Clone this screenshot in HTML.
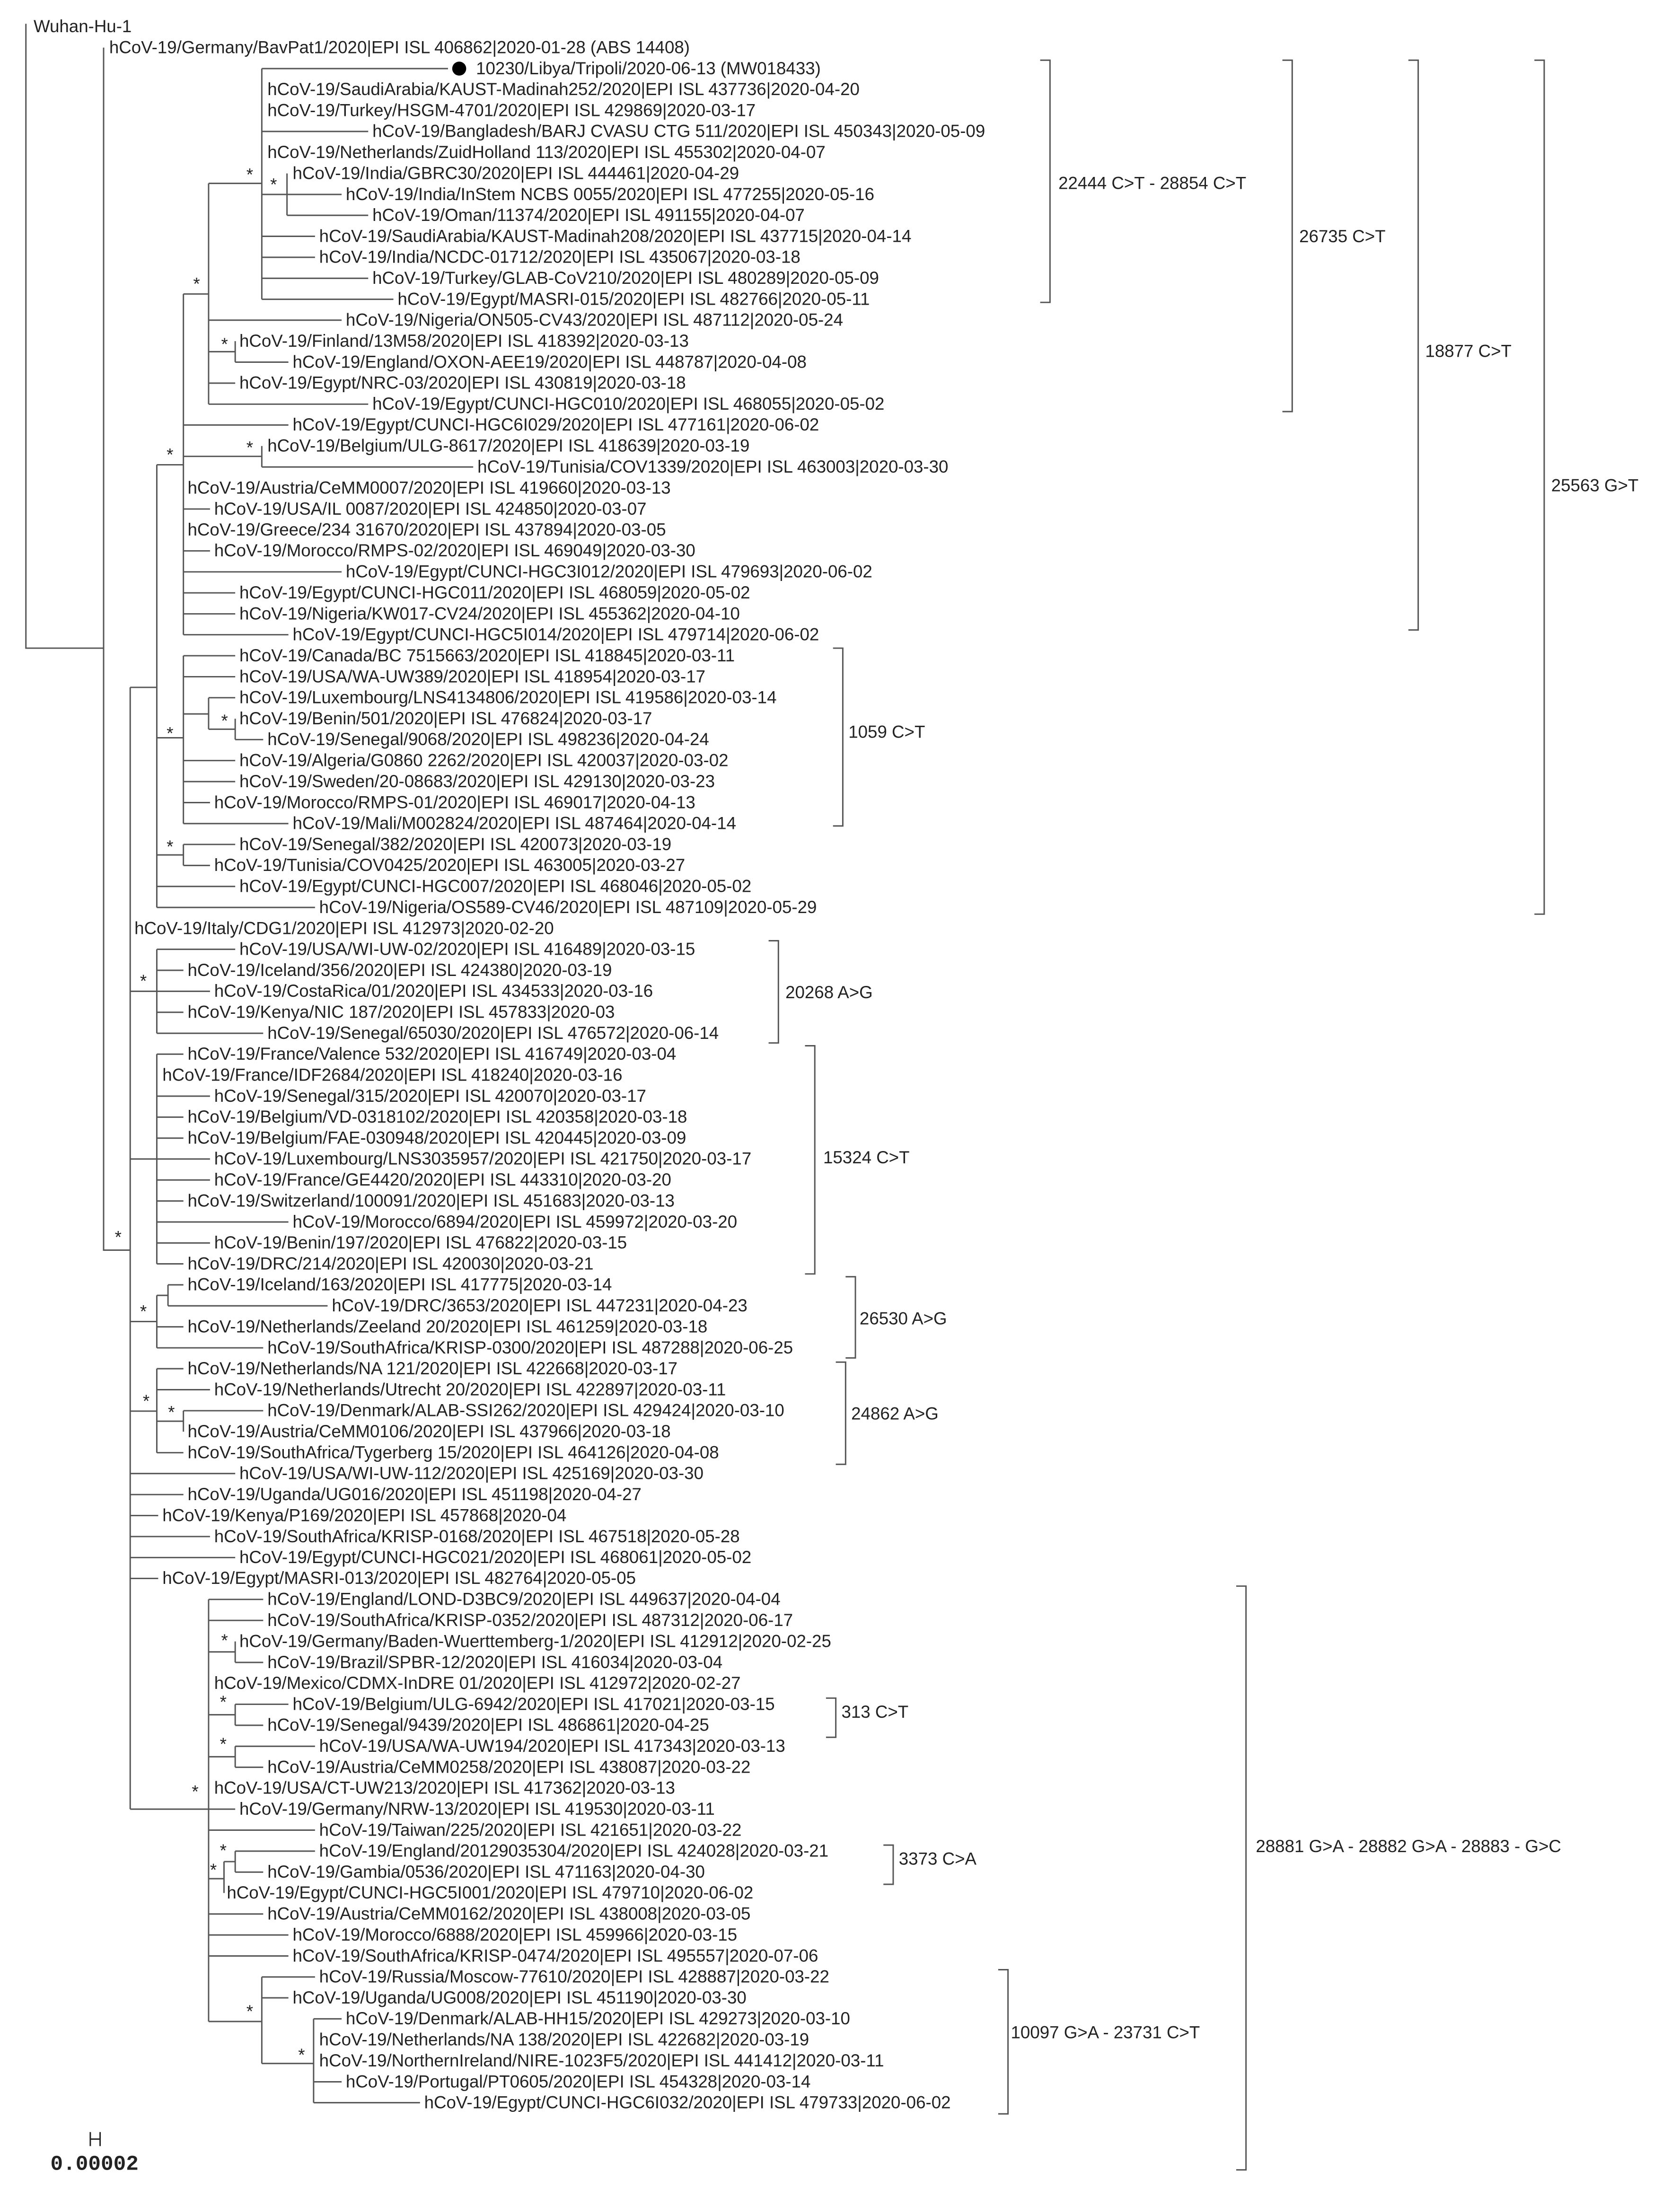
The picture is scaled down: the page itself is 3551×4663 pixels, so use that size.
<!DOCTYPE html>
<html><head><meta charset="utf-8"><style>
html,body{margin:0;padding:0;background:#fff;}
svg{display:block;}
text{font-family:"Liberation Sans",sans-serif;font-size:12.4px;fill:#222;}
.s{font-size:13px;}
.b{font-size:13.5px;}
</style></head><body>
<svg width="3551" height="4663" viewBox="0 0 1200 1575.8" preserveAspectRatio="none" xmlns="http://www.w3.org/2000/svg">
<g stroke="#555" stroke-width="1" fill="none">
<path d="M18.5 17 V463 H74 M74 34 V893 H93 M93 491 V1292.3"/>
<!-- top clade -->
<path d="M74 463 H74 M112 332 V648.2 M93 491 H112 M131 210 V453.4 M112 332 H131 M149 131 V288.7 M131 210 H149 M187 49 V213.8 M149 131 H187 M205 123.9 V153.8 M187 138.9 H205 M168 243.7 V258.7 M149 251.2 H168 M187 318.6 V333.6 M131 326 H187"/>
<path d="M131 468.4 V588.3 M112 527 H131 M149 498.4 V520.9 M131 510 H149 M168 513.4 V528.3 M149 520.9 H168 M131 603.2 V618.2 M112 610.7 H131"/>
<path d="M112 678.1 V738.1 M93 708.1 H112 M112 753 V902.8 M93 827.9 H112 M120 917.8 V932.8 M112 925.3 H120 M112 925.3 V962.8 M93 944 H112 M131 1007.7 V1022.7 M112 1015.2 H131 M112 977.7 V1037.7 M93 1008 H112"/>
<path d="M149 1142.5 V1444 M93 1292.3 H149 M168 1172.5 V1187.5 M149 1180 H168 M168 1217.4 V1232.4 M149 1224.9 H168 M168 1247.4 V1262.4 M149 1254.9 H168 M168 1322.3 V1337.3 M160 1329.8 H168 M160 1329.8 V1352.2 M149 1342 H160 M224 1442.1 V1502 M187 1474 H224 M187 1412.2 V1474 M149 1444 H187"/>
<!-- leaves -->
<path d="M187 49 H320 M187 93.9 H263 M187 138.9 H244 M205 153.8 H263 M187 168.8 H225 M187 183.8 H225 M187 198.8 H263 M187 213.8 H281 M149 228.7 H244 M168 258.7 H206 M149 273.7 H168 M149 288.7 H263 M131 303.6 H206 M187 333.6 H338 M131 363.6 H150 M131 393.5 H150 M131 408.5 H244 M131 423.5 H168 M131 438.5 H168 M131 453.4 H206"/>
<path d="M131 468.4 H168 M131 483.4 H168 M149 498.4 H168 M168 528.3 H188 M131 543.3 H168 M131 558.3 H168 M131 573.3 H150 M131 588.3 H206 M131 603.2 H168 M131 618.2 H150 M112 633.2 H168 M112 648.2 H225"/>
<path d="M112 678.1 H168 M112 693.1 H131 M112 708.1 H150 M112 723.1 H131 M112 738.1 H188 M112 753 H131 M112 783 H150 M112 798 H131 M112 813 H131 M112 827.9 H150 M112 842.9 H150 M112 857.9 H131 M112 872.9 H206 M112 887.9 H150 M112 902.8 H131"/>
<path d="M120 917.8 H131 M120 932.8 H234 M112 947.8 H131 M112 962.8 H188 M112 977.7 H131 M112 992.7 H150 M131 1007.7 H188 M112 1037.7 H131"/>
<path d="M93 1052.6 H168 M93 1067.6 H131 M93 1082.6 H113 M93 1097.6 H150 M93 1112.6 H168 M93 1127.5 H113"/>
<path d="M149 1142.5 H188 M149 1157.5 H188 M168 1187.5 H188 M168 1217.4 H206 M168 1232.4 H188 M168 1247.4 H225 M168 1262.4 H188 M149 1292.3 H168 M149 1307.3 H225 M168 1322.3 H225 M168 1337.3 H188 M149 1367.2 H188 M149 1382.2 H206 M149 1397.2 H206 M187 1412.2 H225 M187 1427.1 H206 M224 1442.1 H244 M224 1487.1 H244 M224 1502 H300"/>
<!-- brackets -->
<path d="M743 43 H750 V216 H743 M916 43 H923 V294 H916 M1006 43 H1013 V450 H1006 M1096 43 H1103 V653 H1096 M595 463 H602 V590 H595 M549 672 H556 V745 H549 M575 747 H582 V910 H575 M604 912 H611 V970 H604 M597 973 H604 V1046 H597 M883 1133 H890 V1550 H883 M590 1213 H597 V1241 H590 M631 1318 H638 V1346 H631 M713 1407 H720 V1510 H713"/>
<path d="M71.5 1523 V1533 M64.5 1523 V1533 M64.5 1528 H71.5" stroke="#222"/>
</g>
<circle cx="328" cy="49" r="5" fill="#000"/>
<g>
<text x="24" y="23">Wuhan-Hu-1</text>
<text x="78" y="38">hCoV-19/Germany/BavPat1/2020|EPI ISL 406862|2020-01-28  (ABS 14408)</text>
<text x="340" y="53">10230/Libya/Tripoli/2020-06-13  (MW018433)</text>
<text x="191" y="68">hCoV-19/SaudiArabia/KAUST-Madinah252/2020|EPI ISL 437736|2020-04-20</text>
<text x="191" y="82.9">hCoV-19/Turkey/HSGM-4701/2020|EPI ISL 429869|2020-03-17</text>
<text x="266" y="97.9">hCoV-19/Bangladesh/BARJ CVASU CTG 511/2020|EPI ISL 450343|2020-05-09</text>
<text x="191" y="112.9">hCoV-19/Netherlands/ZuidHolland 113/2020|EPI ISL 455302|2020-04-07</text>
<text x="209" y="127.9">hCoV-19/India/GBRC30/2020|EPI ISL 444461|2020-04-29</text>
<text x="247" y="142.9">hCoV-19/India/InStem NCBS 0055/2020|EPI ISL 477255|2020-05-16</text>
<text x="266" y="157.8">hCoV-19/Oman/11374/2020|EPI ISL 491155|2020-04-07</text>
<text x="228" y="172.8">hCoV-19/SaudiArabia/KAUST-Madinah208/2020|EPI ISL 437715|2020-04-14</text>
<text x="228" y="187.8">hCoV-19/India/NCDC-01712/2020|EPI ISL 435067|2020-03-18</text>
<text x="266" y="202.8">hCoV-19/Turkey/GLAB-CoV210/2020|EPI ISL 480289|2020-05-09</text>
<text x="284" y="217.8">hCoV-19/Egypt/MASRI-015/2020|EPI ISL 482766|2020-05-11</text>
<text x="247" y="232.7">hCoV-19/Nigeria/ON505-CV43/2020|EPI ISL 487112|2020-05-24</text>
<text x="171" y="247.7">hCoV-19/Finland/13M58/2020|EPI ISL 418392|2020-03-13</text>
<text x="209" y="262.7">hCoV-19/England/OXON-AEE19/2020|EPI ISL 448787|2020-04-08</text>
<text x="171" y="277.7">hCoV-19/Egypt/NRC-03/2020|EPI ISL 430819|2020-03-18</text>
<text x="266" y="292.7">hCoV-19/Egypt/CUNCI-HGC010/2020|EPI ISL 468055|2020-05-02</text>
<text x="209" y="307.6">hCoV-19/Egypt/CUNCI-HGC6I029/2020|EPI ISL 477161|2020-06-02</text>
<text x="191" y="322.6">hCoV-19/Belgium/ULG-8617/2020|EPI ISL 418639|2020-03-19</text>
<text x="341" y="337.6">hCoV-19/Tunisia/COV1339/2020|EPI ISL 463003|2020-03-30</text>
<text x="134" y="352.6">hCoV-19/Austria/CeMM0007/2020|EPI ISL 419660|2020-03-13</text>
<text x="153" y="367.6">hCoV-19/USA/IL 0087/2020|EPI ISL 424850|2020-03-07</text>
<text x="134" y="382.5">hCoV-19/Greece/234 31670/2020|EPI ISL 437894|2020-03-05</text>
<text x="153" y="397.5">hCoV-19/Morocco/RMPS-02/2020|EPI ISL 469049|2020-03-30</text>
<text x="247" y="412.5">hCoV-19/Egypt/CUNCI-HGC3I012/2020|EPI ISL 479693|2020-06-02</text>
<text x="171" y="427.5">hCoV-19/Egypt/CUNCI-HGC011/2020|EPI ISL 468059|2020-05-02</text>
<text x="171" y="442.5">hCoV-19/Nigeria/KW017-CV24/2020|EPI ISL 455362|2020-04-10</text>
<text x="209" y="457.4">hCoV-19/Egypt/CUNCI-HGC5I014/2020|EPI ISL 479714|2020-06-02</text>
<text x="171" y="472.4">hCoV-19/Canada/BC 7515663/2020|EPI ISL 418845|2020-03-11</text>
<text x="171" y="487.4">hCoV-19/USA/WA-UW389/2020|EPI ISL 418954|2020-03-17</text>
<text x="171" y="502.4">hCoV-19/Luxembourg/LNS4134806/2020|EPI ISL 419586|2020-03-14</text>
<text x="171" y="517.4">hCoV-19/Benin/501/2020|EPI ISL 476824|2020-03-17</text>
<text x="191" y="532.3">hCoV-19/Senegal/9068/2020|EPI ISL 498236|2020-04-24</text>
<text x="171" y="547.3">hCoV-19/Algeria/G0860 2262/2020|EPI ISL 420037|2020-03-02</text>
<text x="171" y="562.3">hCoV-19/Sweden/20-08683/2020|EPI ISL 429130|2020-03-23</text>
<text x="153" y="577.3">hCoV-19/Morocco/RMPS-01/2020|EPI ISL 469017|2020-04-13</text>
<text x="209" y="592.3">hCoV-19/Mali/M002824/2020|EPI ISL 487464|2020-04-14</text>
<text x="171" y="607.2">hCoV-19/Senegal/382/2020|EPI ISL 420073|2020-03-19</text>
<text x="153" y="622.2">hCoV-19/Tunisia/COV0425/2020|EPI ISL 463005|2020-03-27</text>
<text x="171" y="637.2">hCoV-19/Egypt/CUNCI-HGC007/2020|EPI ISL 468046|2020-05-02</text>
<text x="228" y="652.2">hCoV-19/Nigeria/OS589-CV46/2020|EPI ISL 487109|2020-05-29</text>
<text x="96" y="667.2">hCoV-19/Italy/CDG1/2020|EPI ISL 412973|2020-02-20</text>
<text x="171" y="682.1">hCoV-19/USA/WI-UW-02/2020|EPI ISL 416489|2020-03-15</text>
<text x="134" y="697.1">hCoV-19/Iceland/356/2020|EPI ISL 424380|2020-03-19</text>
<text x="153" y="712.1">hCoV-19/CostaRica/01/2020|EPI ISL 434533|2020-03-16</text>
<text x="134" y="727.1">hCoV-19/Kenya/NIC 187/2020|EPI ISL 457833|2020-03</text>
<text x="191" y="742.1">hCoV-19/Senegal/65030/2020|EPI ISL 476572|2020-06-14</text>
<text x="134" y="757">hCoV-19/France/Valence 532/2020|EPI ISL 416749|2020-03-04</text>
<text x="116" y="772">hCoV-19/France/IDF2684/2020|EPI ISL 418240|2020-03-16</text>
<text x="153" y="787">hCoV-19/Senegal/315/2020|EPI ISL 420070|2020-03-17</text>
<text x="134" y="802">hCoV-19/Belgium/VD-0318102/2020|EPI ISL 420358|2020-03-18</text>
<text x="134" y="817">hCoV-19/Belgium/FAE-030948/2020|EPI ISL 420445|2020-03-09</text>
<text x="153" y="831.9">hCoV-19/Luxembourg/LNS3035957/2020|EPI ISL 421750|2020-03-17</text>
<text x="153" y="846.9">hCoV-19/France/GE4420/2020|EPI ISL 443310|2020-03-20</text>
<text x="134" y="861.9">hCoV-19/Switzerland/100091/2020|EPI ISL 451683|2020-03-13</text>
<text x="209" y="876.9">hCoV-19/Morocco/6894/2020|EPI ISL 459972|2020-03-20</text>
<text x="153" y="891.9">hCoV-19/Benin/197/2020|EPI ISL 476822|2020-03-15</text>
<text x="134" y="906.8">hCoV-19/DRC/214/2020|EPI ISL 420030|2020-03-21</text>
<text x="134" y="921.8">hCoV-19/Iceland/163/2020|EPI ISL 417775|2020-03-14</text>
<text x="237" y="936.8">hCoV-19/DRC/3653/2020|EPI ISL 447231|2020-04-23</text>
<text x="134" y="951.8">hCoV-19/Netherlands/Zeeland 20/2020|EPI ISL 461259|2020-03-18</text>
<text x="191" y="966.8">hCoV-19/SouthAfrica/KRISP-0300/2020|EPI ISL 487288|2020-06-25</text>
<text x="134" y="981.7">hCoV-19/Netherlands/NA 121/2020|EPI ISL 422668|2020-03-17</text>
<text x="153" y="996.7">hCoV-19/Netherlands/Utrecht 20/2020|EPI ISL 422897|2020-03-11</text>
<text x="191" y="1011.7">hCoV-19/Denmark/ALAB-SSI262/2020|EPI ISL 429424|2020-03-10</text>
<text x="134" y="1026.7">hCoV-19/Austria/CeMM0106/2020|EPI ISL 437966|2020-03-18</text>
<text x="134" y="1041.7">hCoV-19/SouthAfrica/Tygerberg 15/2020|EPI ISL 464126|2020-04-08</text>
<text x="171" y="1056.6">hCoV-19/USA/WI-UW-112/2020|EPI ISL 425169|2020-03-30</text>
<text x="134" y="1071.6">hCoV-19/Uganda/UG016/2020|EPI ISL 451198|2020-04-27</text>
<text x="116" y="1086.6">hCoV-19/Kenya/P169/2020|EPI ISL 457868|2020-04</text>
<text x="153" y="1101.6">hCoV-19/SouthAfrica/KRISP-0168/2020|EPI ISL 467518|2020-05-28</text>
<text x="171" y="1116.6">hCoV-19/Egypt/CUNCI-HGC021/2020|EPI ISL 468061|2020-05-02</text>
<text x="116" y="1131.5">hCoV-19/Egypt/MASRI-013/2020|EPI ISL 482764|2020-05-05</text>
<text x="191" y="1146.5">hCoV-19/England/LOND-D3BC9/2020|EPI ISL 449637|2020-04-04</text>
<text x="191" y="1161.5">hCoV-19/SouthAfrica/KRISP-0352/2020|EPI ISL 487312|2020-06-17</text>
<text x="171" y="1176.5">hCoV-19/Germany/Baden-Wuerttemberg-1/2020|EPI ISL 412912|2020-02-25</text>
<text x="191" y="1191.5">hCoV-19/Brazil/SPBR-12/2020|EPI ISL 416034|2020-03-04</text>
<text x="153" y="1206.4">hCoV-19/Mexico/CDMX-InDRE 01/2020|EPI ISL 412972|2020-02-27</text>
<text x="209" y="1221.4">hCoV-19/Belgium/ULG-6942/2020|EPI ISL 417021|2020-03-15</text>
<text x="191" y="1236.4">hCoV-19/Senegal/9439/2020|EPI ISL 486861|2020-04-25</text>
<text x="228" y="1251.4">hCoV-19/USA/WA-UW194/2020|EPI ISL 417343|2020-03-13</text>
<text x="191" y="1266.4">hCoV-19/Austria/CeMM0258/2020|EPI ISL 438087|2020-03-22</text>
<text x="153" y="1281.3">hCoV-19/USA/CT-UW213/2020|EPI ISL 417362|2020-03-13</text>
<text x="171" y="1296.3">hCoV-19/Germany/NRW-13/2020|EPI ISL 419530|2020-03-11</text>
<text x="228" y="1311.3">hCoV-19/Taiwan/225/2020|EPI ISL 421651|2020-03-22</text>
<text x="228" y="1326.3">hCoV-19/England/20129035304/2020|EPI ISL 424028|2020-03-21</text>
<text x="191" y="1341.3">hCoV-19/Gambia/0536/2020|EPI ISL 471163|2020-04-30</text>
<text x="162" y="1356.2">hCoV-19/Egypt/CUNCI-HGC5I001/2020|EPI ISL 479710|2020-06-02</text>
<text x="191" y="1371.2">hCoV-19/Austria/CeMM0162/2020|EPI ISL 438008|2020-03-05</text>
<text x="209" y="1386.2">hCoV-19/Morocco/6888/2020|EPI ISL 459966|2020-03-15</text>
<text x="209" y="1401.2">hCoV-19/SouthAfrica/KRISP-0474/2020|EPI ISL 495557|2020-07-06</text>
<text x="228" y="1416.2">hCoV-19/Russia/Moscow-77610/2020|EPI ISL 428887|2020-03-22</text>
<text x="209" y="1431.1">hCoV-19/Uganda/UG008/2020|EPI ISL 451190|2020-03-30</text>
<text x="247" y="1446.1">hCoV-19/Denmark/ALAB-HH15/2020|EPI ISL 429273|2020-03-10</text>
<text x="228" y="1461.1">hCoV-19/Netherlands/NA 138/2020|EPI ISL 422682|2020-03-19</text>
<text x="228" y="1476.1">hCoV-19/NorthernIreland/NIRE-1023F5/2020|EPI ISL 441412|2020-03-11</text>
<text x="247" y="1491.1">hCoV-19/Portugal/PT0605/2020|EPI ISL 454328|2020-03-14</text>
<text x="303" y="1506">hCoV-19/Egypt/CUNCI-HGC6I032/2020|EPI ISL 479733|2020-06-02</text>
</g>
<!-- stars -->
<g class="s">
<text x="176" y="129">*</text><text x="193" y="136">*</text><text x="138" y="207">*</text><text x="158" y="250">*</text>
<text x="176" y="324">*</text><text x="119" y="329">*</text><text x="158" y="519">*</text><text x="119" y="528">*</text>
<text x="119" y="609">*</text><text x="100" y="705">*</text><text x="82" y="888">*</text><text x="100" y="941">*</text>
<text x="102" y="1005">*</text><text x="120" y="1013">*</text><text x="158" y="1176">*</text><text x="157" y="1220">*</text>
<text x="157" y="1250">*</text><text x="137" y="1284">*</text><text x="157" y="1326">*</text><text x="150" y="1340">*</text>
<text x="176" y="1441">*</text><text x="213" y="1472">*</text>
</g>
<!-- bracket labels -->
<g class="b">
<text x="756" y="135">22444 C&gt;T - 28854 C&gt;T</text>
<text x="928" y="173">26735 C&gt;T</text>
<text x="1018" y="255">18877 C&gt;T</text>
<text x="1108" y="351">25563 G&gt;T</text>
<text x="606" y="527">1059 C&gt;T</text>
<text x="561" y="713">20268 A&gt;G</text>
<text x="588" y="831">15324 C&gt;T</text>
<text x="614" y="946">26530 A&gt;G</text>
<text x="608" y="1014">24862 A&gt;G</text>
<text x="601" y="1227">313 C&gt;T</text>
<text x="642" y="1332">3373 C&gt;A</text>
<text x="722" y="1456">10097 G&gt;A - 23731 C&gt;T</text>
<text x="897" y="1323">28881 G&gt;A - 28882 G&gt;A - 28883 - G&gt;C</text>
</g>
<text x="36" y="1550" style="font-family:'Liberation Mono',monospace;font-size:15px;font-weight:bold">0.00002</text>
</svg>
</body></html>
